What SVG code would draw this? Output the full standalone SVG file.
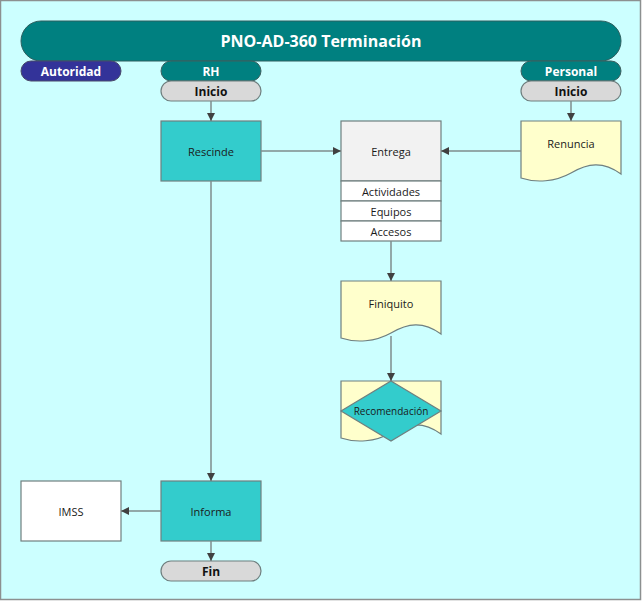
<svg xmlns="http://www.w3.org/2000/svg" width="642" height="602" viewBox="0 0 642 602">
<defs>
<style>
.t{font-family:"Open Sans","Noto Sans","DejaVu Sans",sans-serif;font-size:11px;fill:#1a1a1a;text-anchor:middle;dominant-baseline:central}
.hb{font-family:"Open Sans","Noto Sans","DejaVu Sans",sans-serif;font-size:12px;font-weight:bold;text-anchor:middle;dominant-baseline:central}
.box{stroke:#6f7f7f;stroke-width:1.2}
.c{fill:none;stroke:#7f8c8c;stroke-width:1.5;marker-end:url(#a)}
</style>
<marker id="a" viewBox="0 0 10 10" refX="10" refY="5" markerWidth="8" markerHeight="8" markerUnits="userSpaceOnUse" orient="auto">
<path d="M0,0 L10,5 L0,10 Z" fill="#404040"/>
</marker>
</defs>
<rect x="0.5" y="0.5" width="640" height="599" fill="#CCFFFF" stroke="#8c9090" stroke-width="1.5"/>
<g id="title">
<rect x="21" y="21" width="600" height="40" rx="20" fill="#008080" stroke="#2f5f5f" stroke-width="1"/>
<text x="321" y="41" class="hb" style="font-size:16px" fill="#ffffff">PNO-AD-360 Terminación</text>
</g>
<g id="lane-autoridad">
<rect x="21" y="61" width="100" height="20" rx="10" fill="#333399" stroke="#4a4a6a" stroke-width="1"/>
<text x="71" y="71" class="hb" fill="#ffffff">Autoridad</text>
</g>
<g id="lane-rh">
<rect x="161" y="61" width="100" height="20" rx="10" fill="#008080" stroke="#3f5f5f" stroke-width="1"/>
<text x="211" y="71" class="hb" fill="#ffffff">RH</text>
</g>
<g id="lane-personal">
<rect x="521" y="61" width="100" height="20" rx="10" fill="#008080" stroke="#3f5f5f" stroke-width="1"/>
<text x="571" y="71" class="hb" fill="#ffffff">Personal</text>
</g>
<g id="inicio-rh">
<rect x="161" y="81" width="100" height="20" rx="10" fill="#D9D9D9" class="box"/>
<text x="211" y="91" class="hb" fill="#111">Inicio</text>
</g>
<g id="inicio-personal">
<rect x="521" y="81" width="100" height="20" rx="10" fill="#D9D9D9" class="box"/>
<text x="571" y="91" class="hb" fill="#111">Inicio</text>
</g>
<g id="rescinde">
<rect x="161" y="121" width="100" height="60" fill="#33CCCC" class="box"/>
<text x="211" y="151" class="t">Rescinde</text>
</g>
<g id="entrega">
<rect x="341" y="121" width="100" height="60" fill="#F2F2F2" class="box"/>
<text x="391" y="151" class="t">Entrega</text>
<rect x="341" y="181" width="100" height="20" fill="#ffffff" class="box"/>
<text x="391" y="191" class="t">Actividades</text>
<rect x="341" y="201" width="100" height="20" fill="#ffffff" class="box"/>
<text x="391" y="211" class="t">Equipos</text>
<rect x="341" y="221" width="100" height="20" fill="#ffffff" class="box"/>
<text x="391" y="231" class="t">Accesos</text>
</g>
<g id="renuncia">
<path d="M521,121 H621 V174 C603,161 588,163 571,173 C555,182 536,183 521,178 Z" fill="#FFFFCC" class="box"/>
<text x="571" y="143" class="t">Renuncia</text>
</g>
<g id="finiquito">
<path d="M341,281 H441 V334 C423,321 408,323 391,333 C375,342 356,343 341,338 Z" fill="#FFFFCC" class="box"/>
<text x="391" y="303" class="t">Finiquito</text>
</g>
<g id="recomendacion">
<path d="M341,381 H441 V434 C423,421 408,423 391,433 C375,442 356,443 341,438 Z" fill="#FFFFCC" class="box"/>
<path d="M391,381 L441,411 L391,441 L341,411 Z" fill="#33CCCC" class="box"/>
<text x="391" y="411" class="t" style="font-size:10px">Recomendación</text>
</g>
<g id="imss">
<rect x="21" y="481" width="100" height="60" fill="#ffffff" class="box"/>
<text x="71" y="511" class="t">IMSS</text>
</g>
<g id="informa">
<rect x="161" y="481" width="100" height="60" fill="#33CCCC" class="box"/>
<text x="211" y="511" class="t">Informa</text>
</g>
<g id="fin">
<rect x="161" y="561" width="100" height="20" rx="10" fill="#D9D9D9" class="box"/>
<text x="211" y="571" class="hb" fill="#111">Fin</text>
</g>
<g id="connectors">
<path class="c" d="M211,101 V121"/>
<path class="c" d="M571,101 V121"/>
<path class="c" d="M261,151 H341"/>
<path class="c" d="M521,151 H441"/>
<path class="c" d="M391,241 V281"/>
<path class="c" d="M391,336 V381"/>
<path class="c" d="M211,181 V481"/>
<path class="c" d="M161,511 H121"/>
<path class="c" d="M211,541 V561"/>
</g>
</svg>
